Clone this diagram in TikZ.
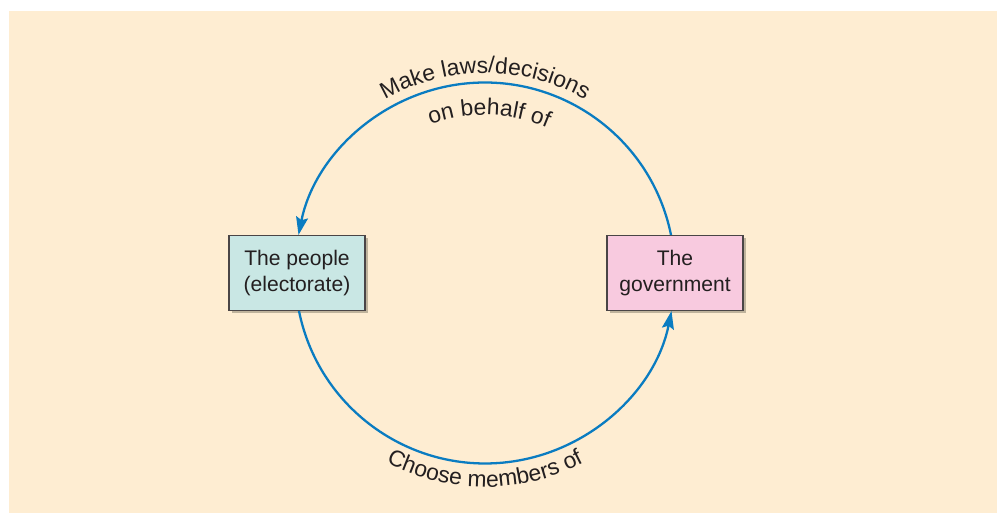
\documentclass[tikz,border=0pt]{standalone}
\usepackage{fontspec}
\setmainfont{Liberation Sans}
\usetikzlibrary{arrows.meta,shadows,decorations.text}
\definecolor{cream}{HTML}{FEEDD2}
\definecolor{peoplefill}{HTML}{C9E7E4}
\definecolor{govfill}{HTML}{F8CADF}
\definecolor{flowblue}{HTML}{0A7CC1}
\definecolor{shadowtan}{HTML}{BFB39C}
\definecolor{boxline}{HTML}{4A4546}
\definecolor{ink}{HTML}{231F20}
\newcommand{\arcfont}{\fontsize{13}{15}\selectfont\color{ink}}

\begin{document}
\begin{tikzpicture}[x=0.02cm,y=0.02cm,
    box/.style={draw=boxline,line width=0.6pt,minimum width=2.72cm,minimum height=1.5cm,
        align=center,text=ink,font=\fontsize{12}{14.6}\selectfont,
        drop shadow={shadow xshift=0.06cm,shadow yshift=-0.06cm,fill=shadowtan,opacity=1}},
    flow/.style={draw=flowblue,line width=1.3pt,-{Stealth[length=0.36cm,width=0.24cm,inset=0.06cm]}},
    arclabel/.style={decorate,decoration={text along path,text align=center,text={|\arcfont|#1}}}]
        \useasboundingbox (0,0) rectangle (998,513);
        \fill[cream] (9,0) rectangle (997,502);
        \coordinate (ring) at (485,240);
        \node[box,fill=peoplefill] (people) at (297,240) {The people\\(electorate)};
        \node[box,fill=govfill] (gov) at (675,240) {The\\government};
        \draw[flow] (gov.north) ++(-4,0) arc[start angle=11.4,end angle=168.6,radius=190];
        \draw[flow] (people.south) ++(2,0) arc[start angle=191.4,end angle=348.6,radius=190];
        \path[arclabel={Make laws/decisions}] (ring) ++(150:200) arc[start angle=150,end angle=30,radius=200];
        \path[arclabel={on behalf of}] (ring) ++(148.5:158) arc[start angle=148.5,end angle=28.5,radius=158];
        \path[arclabel={Choose members of}] (ring) ++(205:214) arc[start angle=205,end angle=335,radius=214];
    \end{tikzpicture}
\end{document}
